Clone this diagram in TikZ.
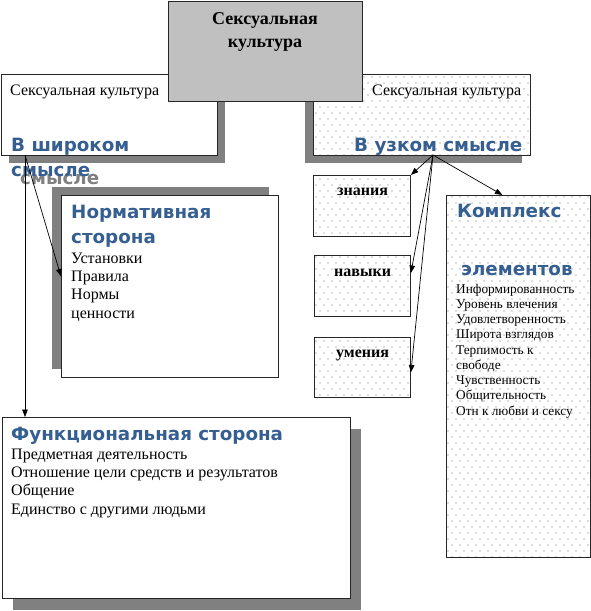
\documentclass[tikz,border=0pt]{standalone}
\usepackage{fontspec}
\setmainfont{Liberation Serif}
\newfontfamily\headfont{DejaVu Sans}
\usepackage{xcolor}
\usepackage{tikz}
\usetikzlibrary{positioning}
\usetikzlibrary{shadows}
\usetikzlibrary{arrows.meta}
\usetikzlibrary{patterns}
\definecolor{headblue}{HTML}{365F91}
\definecolor{shadowgray}{HTML}{808080}
\definecolor{topgray}{HTML}{C0C0C0}
\definecolor{dotgray}{HTML}{707070}
\pgfdeclarepatternformonly{sparsedots}{\pgfqpoint{-1pt}{-1pt}}{\pgfqpoint{9pt}{13pt}}{\pgfqpoint{8pt}{12pt}}{%
    \pgfpathcircle{\pgfqpoint{0pt}{0pt}}{0.7pt}%
    \pgfpathcircle{\pgfqpoint{4pt}{6pt}}{0.7pt}%
    \pgfusepath{fill}%
}
\tikzset{
    box/.style = {draw=black!85, line width=0.9pt, fill=white, inner sep=0pt, anchor=north west},
    dotbox/.style = {draw=black!85, line width=0.9pt, inner sep=0pt, anchor=north west,
        preaction={fill=white}, pattern=sparsedots, pattern color=dotgray},
    topbox/.style = {draw=black!85, line width=0.9pt, fill=topgray, inner sep=0pt, anchor=north west},
    boxshadow/.style 2 args = {general shadow={fill=shadowgray, shadow xshift=#1, shadow yshift=#2}},
    plaintxt/.style = {anchor=base west, inner sep=0pt, align=left, font=\fontsize{16}{18.2}\selectfont},
    smalltxt/.style = {anchor=base west, inner sep=0pt, align=left, font=\fontsize{13.3}{15.25}\selectfont},
    boldtxt/.style = {anchor=base west, inner sep=0pt, font=\bfseries\fontsize{16}{18}\selectfont},
    bluetxt/.style = {anchor=base west, inner sep=0pt, align=left, text=headblue,
        font=\headfont\bfseries\fontsize{18.3}{25}\selectfont},
    arr/.style = {-{Triangle[length=7.5pt,width=5.5pt]}, line width=0.7pt}
}
\begin{document}
\begin{tikzpicture}[x=1pt, y=-1pt]
    \useasboundingbox (0,0) rectangle (591,611);
    % broad sense
    \node [boxshadow={8pt}{-8pt}, box, minimum width=216pt, minimum height=81pt] (wide) at (1,74) {};
    \node [plaintxt] (widetitle) at (10,95) {Сексуальная культура};
    \node [bluetxt, text=shadowgray] (wideecho) at (20,184) {смысле};
    \node [bluetxt] (widetxt) at (11,176) {В широком\\смысле};
    % normative side
    \node [boxshadow={-9pt}{8pt}, box, minimum width=217pt, minimum height=182pt] (norm) at (61,195) {};
    \node [bluetxt] (normhead) at (71,243) {Нормативная\\сторона};
    \node [plaintxt] (normlist) at (71,318) {Установки\\Правила\\Нормы\\ценности};
    % functional side
    \node [boxshadow={11pt}{-12pt}, box, minimum width=348pt, minimum height=181pt] (func) at (2,417) {};
    \node [bluetxt] (funchead) at (11,440) {Функциональная сторона};
    \node [plaintxt] (funclist) at (11,514) {Предметная деятельность\\Отношение цели средств и результатов\\Общение\\Единство с другими людьми};
    % narrow sense
    \node [boxshadow={-8pt}{-8pt}, dotbox, minimum width=217pt, minimum height=81pt] (narrow) at (313,74) {};
    \node [plaintxt] (narrowtitle) at (372,95) {Сексуальная культура};
    \node [bluetxt] (narrowtxt) at (354,151) {В узком смысле};
    \node [dotbox, minimum width=97pt, minimum height=61pt] (know) at (313,175) {};
    \node [boldtxt] (knowtxt) at (337,195) {знания};
    \node [dotbox, minimum width=96pt, minimum height=61pt] (skill) at (314,255) {};
    \node [boldtxt] (skilltxt) at (334,276) {навыки};
    \node [dotbox, minimum width=96pt, minimum height=60pt] (abil) at (314,337) {};
    \node [boldtxt] (abiltxt) at (336,357) {умения};
    \node [dotbox, minimum width=144pt, minimum height=362pt] (complex) at (446,195) {};
    \node [bluetxt] (complexhead) at (457,217) {Комплекс};
    \node [bluetxt] (complexhead2) at (461,275) {элементов};
    \node [smalltxt] (complexlist) at (456,415) {Информированность\\Уровень влечения\\Удовлетворенность\\Широта взглядов\\Терпимость к\\свободе\\Чувственность\\Общительность\\Отн к любви и сексу};
    % root
    \node [topbox, minimum width=194pt, minimum height=100pt] (culture) at (168,1) {};
    \node [anchor=base, inner sep=0pt, align=center, font=\bfseries\fontsize{18}{23}\selectfont] (culturetxt) at (265,47) {Сексуальная\\культура};
    % connectors
    \coordinate (wideout) at (25,155);
    \coordinate (narrowout) at (433,155);
    \draw [arr] (wideout) -- (wideout |- func.north);
    \draw [arr] (wideout) -- ([yshift=10pt]norm.west);
    \draw [arr] (narrowout) -- (know.north east);
    \draw [arr] (narrowout) -- ([xshift=-16pt]complex.north);
    \draw [arr] (narrowout) -- ([yshift=13pt]skill.east);
    \draw [arr] (narrowout) -- ([yshift=-5pt]abil.east);
\end{tikzpicture}
\end{document}
